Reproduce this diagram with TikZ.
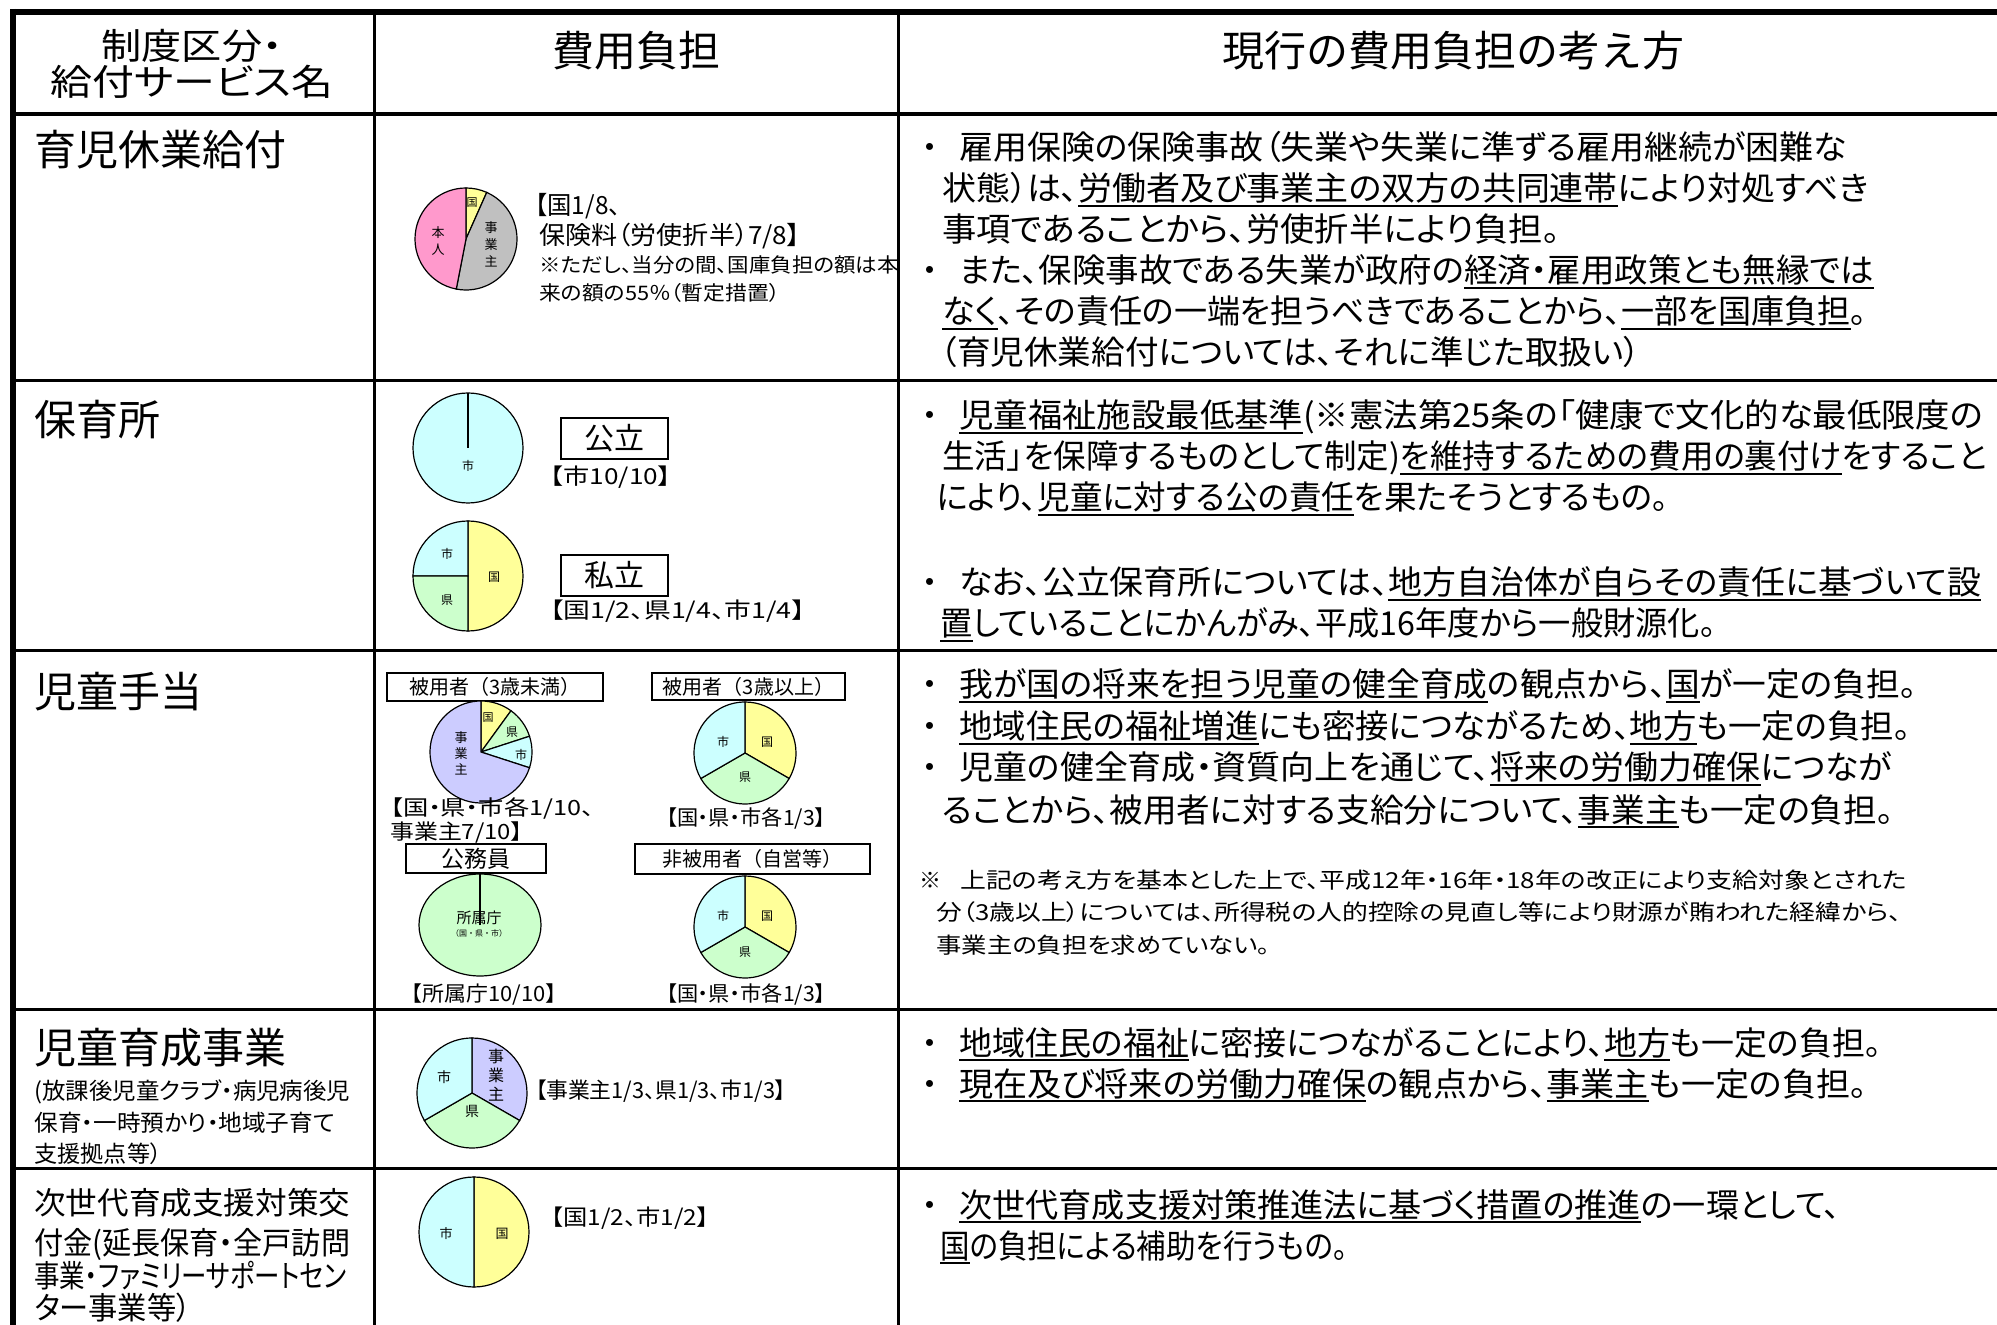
\documentclass[tikz,border=0pt]{standalone}
\usepackage{graphicx}
\usepackage{fontspec}
\setmainfont{Noto Sans CJK JP}
\newfontfamily\pf{Noto Sans CJK JP}[RawFeature=+palt]
\newsavebox\ulbox
\newcommand\ul[1]{\sbox\ulbox{#1}\rlap{\rule[-0.17em]{\wd\ulbox}{0.9pt}}\usebox\ulbox}
\newcommand\fsz[1]{\fontsize{#1}{#1}\selectfont}
\newdimen\dpx \dpx=0.6368pt
\newcommand\fit[2]{\resizebox{#1\dpx}{\height}{#2}}
\newcommand\bul{\makebox[23pt][l]{\normalfont ・}}
\definecolor{cyel}{HTML}{FFFF99}
\definecolor{cgry}{HTML}{C0C0C0}
\definecolor{cpnk}{HTML}{FF99CC}
\definecolor{ccyn}{HTML}{CCFFFF}
\definecolor{cgrn}{HTML}{CCFFCC}
\definecolor{clav}{HTML}{CCCCFF}
\tikzset{
  pie/.style={draw=black, line width=0.6pt},
  rc/.style={anchor=base west, inner sep=0pt, font=\pf\fsz{16.5pt}},
  hd/.style={anchor=base, inner sep=0pt, font=\fsz{21pt}},
  ttl/.style={anchor=base west, inner sep=0pt, font=\fsz{21pt}},
  nt/.style={anchor=base west, inner sep=0pt, font=\pf\fsz{11pt}},
  ct/.style={anchor=base west, inner sep=0pt, font=\pf\fsz{11pt}},
  cc/.style={anchor=base, inner sep=0pt, font=\pf\fsz{11pt}},
  lb/.style={anchor=center, inner sep=0pt, align=center},
  bx/.style={draw, line width=1pt, inner sep=0pt, anchor=center},
  thick line/.style={line width=3pt},
  row line/.style={line width=1.5pt}
}
\newcommand\pslice[6]{\filldraw[pie,fill=#6] (#1,-#2) -- ++(#4:#3) arc[start angle=#4,end angle=#5,radius=#3] -- cycle;}
\begin{document}
\begin{tikzpicture}[x=0.5pt,y=0.5pt]
\useasboundingbox (0,0) rectangle (1997,-1325);
\fill[white] (0,0) rectangle (1997,-1325);
% ---------- table grid ----------
\draw[row line] (374,-12) -- (374,-1325);
\draw[row line] (898,-12) -- (898,-1325);
\draw[line width=2pt] (13,-114) -- (1997,-114);
\draw[row line] (13,-381) -- (1997,-381);
\draw[row line] (13,-651) -- (1997,-651);
\draw[row line] (13,-1009) -- (1997,-1009);
\draw[row line] (13,-1168) -- (1997,-1168);
\draw[thick line] (10,-12) -- (1997,-12);
\draw[thick line] (13,-9) -- (13,-1325);
% ---------- header ----------
\node[hd, font=\pf\fsz{18pt}] (h1a) at (192,-60) {\fit{142}{制度区分・}};
\node[hd, font=\pf\fsz{18pt}] (h1b) at (192,-96) {\fit{222}{給付サービス名}};
\node[hd] (h2) at (636,-67) {費用負担};
\node[hd] (h3) at (1453,-67) {現行の費用負担の考え方};
% ---------- left column ----------
\node[ttl] (t1) at (34,-166) {育児休業給付};
\node[ttl] (t2) at (34,-436) {保育所};
\node[ttl] (t3) at (34,-708) {児童手当};
\node[ttl] (t4) at (34,-1063) {児童育成事業};
\node[ct, font=\pf\fsz{11.5pt}] (t4a) at (34,-1099) {\fit{248}{(放課後児童クラブ・病児病後児}};
\node[ct, font=\pf\fsz{11.5pt}] (t4b) at (34,-1131) {\fit{236}{保育・一時預かり・地域子育て}};
\node[ct, font=\pf\fsz{11.5pt}] (t4c) at (34,-1162) {\fit{100}{支援拠点等）}};
\node[ct, font=\pf\fsz{15.5pt}] (t5a) at (34,-1214) {\fit{248}{次世代育成支援対策交}};
\node[ct, font=\pf\fsz{15.5pt}] (t5b) at (34,-1254) {\fit{248}{付金(延長保育・全戸訪問}};
\node[ct, font=\pf\fsz{15.5pt}] (t5c) at (34,-1287) {\fit{245}{事業・ファミリーサポートセン}};
\node[ct, font=\pf\fsz{15.5pt}] (t5d) at (34,-1319) {\fit{123}{ター事業等）}};
% ---------- row 1 chart ----------
\pslice{466}{239}{25.5pt}{90}{66}{cyel}
\pslice{466}{239}{25.5pt}{66}{-101}{cgry}
\pslice{466}{239}{25.5pt}{-101}{-270}{cpnk}
\node[lb, font=\fsz{5.5pt}] (p1k) at (472,-203) {国};
\node[lb, font=\fontsize{6.5pt}{8.5pt}\selectfont] (p1h) at (438,-241) {本\\人};
\node[lb, font=\fontsize{6.5pt}{8.5pt}\selectfont] (p1j) at (491,-244) {事\\業\\主};
\node[ct, font=\pf\fsz{12.5pt}] (c1a) at (535,-215) {\fit{67}{【国1/8、}};
\node[ct, font=\pf\fsz{12.5pt}] (c1b) at (539,-245) {\fit{205}{保険料（労使折半）7/8】}};
\node[ct, font=\pf\fsz{10pt}] (c1c) at (539,-273) {\fit{282}{※ただし、当分の間、国庫負担の額は本}};
\node[ct, font=\pf\fsz{10pt}] (c1d) at (539,-301) {\fit{189}{来の額の55％（暫定措置）}};
% ---------- row 2 charts ----------
\filldraw[pie, fill=ccyn] (468,-448) circle[radius=27.5pt];
\draw[pie] (468,-448) -- (468,-393);
\node[lb, font=\fsz{6pt}] (p2s) at (468,-466) {市};
\node[bx, font=\fsz{15pt}, minimum width=53.5pt, minimum height=20.5pt] (b2a) at (614.5,-438.5) {公立};
\node[ct] (c2a) at (550,-485) {\fit{95}{【市10/10】}};
\pslice{468}{576}{27.5pt}{90}{-90}{cyel}
\pslice{468}{576}{27.5pt}{90}{180}{ccyn}
\pslice{468}{576}{27.5pt}{180}{270}{cgrn}
\node[lb, font=\fsz{6pt}] (p3s) at (447,-554) {市};
\node[lb, font=\fsz{6pt}] (p3p) at (447,-600) {県};
\node[lb, font=\fsz{6pt}] (p3k) at (494,-577) {国};
\node[bx, font=\fsz{15pt}, minimum width=53.5pt, minimum height=20.5pt] (b2b) at (614.5,-575.5) {私立};
\node[ct] (c2b) at (550,-619) {\fit{200}{【国1/2、県1/4、市1/4】}};
% ---------- row 3 charts ----------
\node[bx, font=\fsz{10pt}, minimum width=108pt, minimum height=14pt] (b3a) at (495,-687) {被用者（3歳未満）};
\pslice{481}{752}{25.5pt}{90}{54}{cyel}
\pslice{481}{752}{25.5pt}{54}{18}{cgrn}
\pslice{481}{752}{25.5pt}{18}{-18}{ccyn}
\pslice{481}{752}{25.5pt}{-18}{-270}{clav}
\node[lb, font=\fsz{5.5pt}] (p4k) at (488,-718) {国};
\node[lb, font=\fsz{6pt}] (p4p) at (512,-732) {県};
\node[lb, font=\fsz{6pt}] (p4s) at (521,-755) {市};
\node[lb, font=\fontsize{6.5pt}{8pt}\selectfont] (p4j) at (461,-753) {事\\業\\主};
\node[ct, font=\pf\fsz{10.5pt}] (c3a) at (390,-815) {\fit{160}{【国・県・市各1/10、}};
\node[ct, font=\pf\fsz{10.5pt}] (c3b) at (390,-840) {\fit{104}{事業主7/10】}};
\node[bx, font=\fsz{10pt}, minimum width=96.5pt, minimum height=13.5pt] (b3b) at (748.5,-686.5) {被用者（3歳以上）};
\pslice{745}{753}{25.5pt}{90}{-30}{cyel}
\pslice{745}{753}{25.5pt}{-30}{-150}{cgrn}
\pslice{745}{753}{25.5pt}{-150}{-270}{ccyn}
\node[lb, font=\fsz{6pt}] (p5k) at (767,-742) {国};
\node[lb, font=\fsz{6pt}] (p5p) at (745,-777) {県};
\node[lb, font=\fsz{6pt}] (p5s) at (723,-742) {市};
\node[cc, font=\pf\fsz{10.5pt}] (c3c) at (746,-825) {\fit{125}{【国・県・市各1/3】}};
\node[bx, font=\fsz{11.5pt}, minimum width=70pt, minimum height=14.5pt] (b3c) at (476,-858.5) {公務員};
\filldraw[pie, fill=cgrn] (480,-925) ellipse[x radius=30.5pt, y radius=25.5pt];
\draw[pie] (480,-925) -- (480,-874);
\node[lb, font=\fsz{7.5pt}] (p6a) at (479,-918) {所属庁};
\node[lb, font=\fsz{4pt}] (p6b) at (479,-933) {（国・県・市）};
\node[cc, font=\pf\fsz{10.5pt}] (c3d) at (484,-1001) {\fit{114}{【所属庁10/10】}};
\node[bx, font=\fsz{10pt}, minimum width=117.5pt, minimum height=15pt] (b3d) at (752.5,-859) {非被用者（自営等）};
\pslice{745}{927}{25.5pt}{90}{-30}{cyel}
\pslice{745}{927}{25.5pt}{-30}{-150}{cgrn}
\pslice{745}{927}{25.5pt}{-150}{-270}{ccyn}
\node[lb, font=\fsz{6pt}] (p7k) at (767,-916) {国};
\node[lb, font=\fsz{6pt}] (p7p) at (745,-952) {県};
\node[lb, font=\fsz{6pt}] (p7s) at (723,-916) {市};
\node[cc, font=\pf\fsz{10.5pt}] (c3e) at (746,-1001) {\fit{125}{【国・県・市各1/3】}};
% ---------- row 4 chart ----------
\pslice{472}{1093}{27.5pt}{90}{-30}{clav}
\pslice{472}{1093}{27.5pt}{-30}{-150}{cgrn}
\pslice{472}{1093}{27.5pt}{-150}{-270}{ccyn}
\node[lb, font=\fontsize{8pt}{9.5pt}\selectfont] (p8j) at (496,-1075) {事\\業\\主};
\node[lb, font=\fsz{7pt}] (p8s) at (444,-1077) {市};
\node[lb, font=\fsz{7pt}] (p8p) at (472,-1111) {県};
\node[ct] (c4) at (535,-1098) {\fit{197}{【事業主1/3、県1/3、市1/3】}};
% ---------- row 5 chart ----------
\pslice{474}{1232}{27.5pt}{90}{-90}{cyel}
\pslice{474}{1232}{27.5pt}{90}{270}{ccyn}
\node[lb, font=\fsz{6.5pt}] (p9s) at (446,-1234) {市};
\node[lb, font=\fsz{6.5pt}] (p9k) at (502,-1234) {国};
\node[ct] (c5) at (551,-1225) {\fit{124}{【国1/2、市1/2】}};
% ---------- right column ----------
\node[rc] (r1a) at (913,-160) {\bul\fit{697}{雇用保険の保険事故（失業や失業に準ずる雇用継続が困難な}};
\node[rc] (r1b) at (942,-201) {\fit{727}{状態）は、\ul{労働者及び事業主の双方の共同連帯}により対処すべき}};
\node[rc] (r1c) at (942,-242) {\fit{485}{事項であることから、労使折半により負担。}};
\node[rc] (r1d) at (913,-283) {\bul\fit{718}{また、保険事故である失業が政府の\ul{経済・雇用政策とも無縁では}}};
\node[rc] (r1e) at (942,-324) {\fit{726}{\ul{なく}、その責任の一端を担うべきであることから、\ul{一部を国庫負担}。}};
\node[rc] (r1f) at (940,-365) {\fit{550}{（育児休業給付については、それに準じた取扱い）}};
\node[rc] (r2a) at (913,-428) {\bul\fit{804}{\ul{児童福祉施設最低基準}(※憲法第25条の「健康で文化的な最低限度の}};
\node[rc] (r2b) at (942,-469) {\fit{820}{生活」を保障するものとして制定)\ul{を維持するための費用の裏付け}をすること}};
\node[rc] (r2c) at (936,-510) {\fit{575}{により、\ul{児童に対する公の責任}を果たそうとするもの。}};
\node[rc] (r2d) at (913,-595) {\bul\fit{802}{なお、公立保育所については、\ul{地方自治体が自らその責任に基づいて設}}};
\node[rc] (r2e) at (940,-636) {\fit{609}{\ul{置}していることにかんがみ、平成16年度から一般財源化。}};
\node[rc] (r3a) at (913,-697) {\bul\fit{752}{\ul{我が国の将来を担う児童の健全育成}の観点から、\ul{国}が一定の負担。}};
\node[rc] (r3b) at (913,-739) {\bul\fit{747}{\ul{地域住民の福祉増進}にも密接につながるため、\ul{地方}も一定の負担。}};
\node[rc] (r3c) at (913,-780) {\bul\fit{732}{児童の健全育成・資質向上を通じて、\ul{将来の労働力確保}につなが}};
\node[rc] (r3d) at (942,-822) {\fit{747}{ることから、被用者に対する支給分について、\ul{事業主}も一定の負担。}};
\node[nt] (n1) at (919,-888) {\makebox[20.5pt][l]{\normalfont ※}\fit{743}{上記の考え方を基本とした上で、平成12年・16年・18年の改正により支給対象とされた}};
\node[nt] (n2) at (936,-921) {\fit{758}{分（3歳以上）については、所得税の人的控除の見直し等により財源が賄われた経緯から、}};
\node[nt] (n3) at (936,-953) {\fit{262}{事業主の負担を求めていない。}};
\node[rc] (r4a) at (913,-1055) {\bul\fit{724}{\ul{地域住民の福祉}に密接につながることにより、\ul{地方}も一定の負担。}};
\node[rc] (r4b) at (913,-1096) {\bul\fit{713}{\ul{現在及び将来の労働力確保}の観点から、\ul{事業主}も一定の負担。}};
\node[rc] (r5a) at (913,-1217) {\bul\fit{692}{\ul{次世代育成支援対策推進法に基づく措置の推進}の一環として、}};
\node[rc] (r5b) at (940,-1258) {\fit{320}{\ul{国}の負担による補助を行うもの。}};
\end{tikzpicture}
\end{document}
